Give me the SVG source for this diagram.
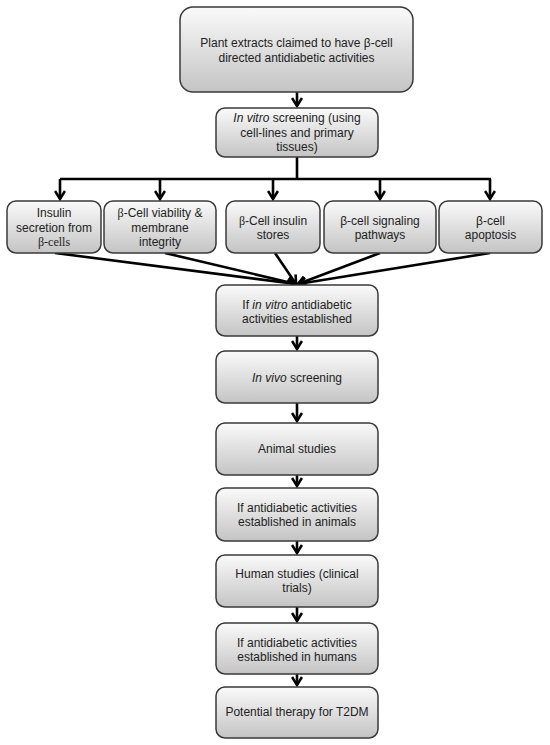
<svg xmlns="http://www.w3.org/2000/svg" width="550" height="745" viewBox="0 0 550 745">
<defs>
<linearGradient id="g" x1="0" y1="0" x2="0" y2="1">
<stop offset="0" stop-color="#fafafa"/>
<stop offset="1" stop-color="#c4c4c4"/>
</linearGradient>
<marker id="ah" viewBox="0 0 12 12" refX="10" refY="6" markerWidth="12" markerHeight="12" markerUnits="userSpaceOnUse" orient="auto">
<path d="M2,1 L10,6 L2,11" fill="none" stroke="#000" stroke-width="2.6"/>
</marker>
</defs>
<style>
.box{fill:url(#g);stroke:#3a3a3a;stroke-width:1.5}
.t{font-family:"Liberation Sans",Arial,sans-serif;font-size:12px;fill:#222;text-anchor:middle}
.s{font-family:"Liberation Serif","Times New Roman",serif}
.c{fill:none;stroke:#000;stroke-width:2.6}
</style>
<rect width="550" height="745" fill="#fff"/>
<g id="connectors">
<path class="c" d="M297,92 V106" marker-end="url(#ah)"/>
<path class="c" d="M297,157 V179 M60,179 H491"/>
<path class="c" d="M60,179 V199" marker-end="url(#ah)"/>
<path class="c" d="M160,179 V199" marker-end="url(#ah)"/>
<path class="c" d="M273,179 V199" marker-end="url(#ah)"/>
<path class="c" d="M380,179 V199" marker-end="url(#ah)"/>
<path class="c" d="M490,179 V199" marker-end="url(#ah)"/>
<path class="c" d="M55,253 L296,284" marker-end="url(#ah)"/>
<path class="c" d="M165,253 L296,284" marker-end="url(#ah)"/>
<path class="c" d="M275,253 L296,284" marker-end="url(#ah)"/>
<path class="c" d="M380,253 L298,284" marker-end="url(#ah)"/>
<path class="c" d="M490,253 L298,284" marker-end="url(#ah)"/>
<path class="c" d="M297,336 V349" marker-end="url(#ah)"/>
<path class="c" d="M297,403 V421" marker-end="url(#ah)"/>
<path class="c" d="M297,475 V486" marker-end="url(#ah)"/>
<path class="c" d="M297,541 V553" marker-end="url(#ah)"/>
<path class="c" d="M297,607 V621" marker-end="url(#ah)"/>
<path class="c" d="M297,674 V685" marker-end="url(#ah)"/>
</g>
<g id="n1"><rect class="box" x="180" y="7" width="233" height="85" rx="13"/>
<text class="t" x="296.5" y="47">Plant extracts claimed to have β-cell</text>
<text class="t" x="296.5" y="62">directed antidiabetic activities</text></g>
<g id="n2"><rect class="box" x="216" y="108" width="162" height="49" rx="9"/>
<text class="t" x="297" y="122"><tspan font-style="italic">In vitro</tspan> screening (using</text>
<text class="t" x="297" y="137">cell-lines and primary</text>
<text class="t" x="297" y="151">tissues)</text></g>
<g id="n3"><rect class="box" x="7" y="201" width="94" height="52" rx="9"/>
<text class="t" x="54" y="217">Insulin</text>
<text class="t" x="54" y="232">secretion from</text>
<text class="t s" x="54" y="246">β-cells</text></g>
<g id="n4"><rect class="box" x="104" y="201" width="112" height="52" rx="9"/>
<text class="t" x="160" y="217"><tspan class="s">β</tspan>-Cell viability &amp;</text>
<text class="t" x="160" y="232">membrane</text>
<text class="t" x="160" y="246">integrity</text></g>
<g id="n5"><rect class="box" x="226" y="201" width="94" height="52" rx="9"/>
<text class="t" x="273" y="225"><tspan class="s">β</tspan>-Cell insulin</text>
<text class="t" x="273" y="239">stores</text></g>
<g id="n6"><rect class="box" x="324" y="201" width="112" height="52" rx="9"/>
<text class="t" x="380" y="225">β-cell signaling</text>
<text class="t" x="380" y="239">pathways</text></g>
<g id="n7"><rect class="box" x="439" y="201" width="103" height="52" rx="9"/>
<text class="t" x="490.5" y="225">β-cell</text>
<text class="t" x="490.5" y="239">apoptosis</text></g>
<g id="n8"><rect class="box" x="216" y="285" width="162" height="51" rx="9"/>
<text class="t" x="297" y="309">If <tspan font-style="italic">in vitro</tspan> antidiabetic</text>
<text class="t" x="297" y="323">activities established</text></g>
<g id="n9"><rect class="box" x="216" y="351" width="162" height="52" rx="9"/>
<text class="t" x="297" y="382"><tspan font-style="italic">In vivo</tspan> screening</text></g>
<g id="n10"><rect class="box" x="216" y="423" width="162" height="52" rx="9"/>
<text class="t" x="297" y="453">Animal studies</text></g>
<g id="n11"><rect class="box" x="216" y="488" width="162" height="53" rx="9"/>
<text class="t" x="297" y="512">If antidiabetic activities</text>
<text class="t" x="297" y="526">established in animals</text></g>
<g id="n12"><rect class="box" x="216" y="555" width="162" height="52" rx="9"/>
<text class="t" x="297" y="578">Human studies (clinical</text>
<text class="t" x="297" y="592">trials)</text></g>
<g id="n13"><rect class="box" x="216" y="623" width="162" height="51" rx="9"/>
<text class="t" x="297" y="647">If antidiabetic activities</text>
<text class="t" x="297" y="661">established in humans</text></g>
<g id="n14"><rect class="box" x="216" y="687" width="162" height="51" rx="9"/>
<text class="t" x="297" y="716">Potential therapy for T2DM</text></g>
</svg>
